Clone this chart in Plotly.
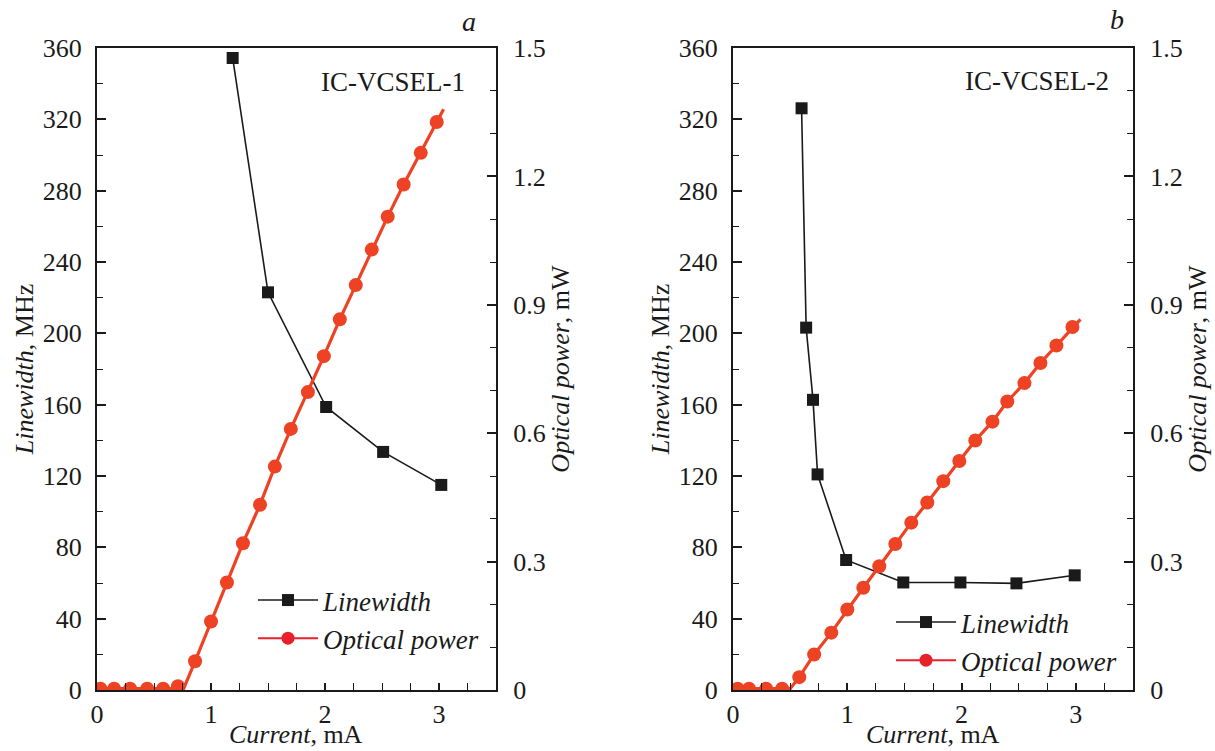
import plotly.graph_objects as go

# ---------------- data ----------------
# Panel a: IC-VCSEL-1
lw1_current = [1.19, 1.50, 2.01, 2.51, 3.02]
lw1_values = [354.4, 223.0, 158.7, 133.5, 115.0]

op1_current = [0.03, 0.15, 0.29, 0.44, 0.58, 0.71, 0.86, 1.00, 1.14, 1.28, 1.43,
               1.56, 1.70, 1.85, 1.99, 2.13, 2.27, 2.41, 2.55, 2.69, 2.84, 2.98]
op1_values = [0.003, 0.003, 0.003, 0.003, 0.003, 0.009, 0.067, 0.160, 0.251, 0.343, 0.433,
              0.522, 0.610, 0.696, 0.780, 0.866, 0.946, 1.029, 1.106, 1.181, 1.255, 1.327]
op1_line_current = [0.00, 0.71, 0.76, 0.86, 1.00, 1.14, 1.28, 1.43, 1.56, 1.70, 1.85,
                    1.99, 2.13, 2.27, 2.41, 2.55, 2.69, 2.84, 2.98, 3.04]
op1_line_values = [0.003, 0.003, 0.003, 0.067, 0.160, 0.251, 0.343, 0.433, 0.522, 0.610,
                   0.696, 0.780, 0.866, 0.946, 1.029, 1.106, 1.181, 1.255, 1.327, 1.357]

# Panel b: IC-VCSEL-2
lw2_current = [0.60, 0.64, 0.70, 0.74, 0.99, 1.49, 1.99, 2.48, 2.99]
lw2_values = [326.2, 203.2, 162.7, 120.9, 72.9, 60.3, 60.3, 59.8, 64.3]

op2_current = [0.04, 0.14, 0.29, 0.43, 0.58, 0.71, 0.86, 1.00, 1.14, 1.28, 1.42,
               1.56, 1.70, 1.84, 1.98, 2.12, 2.27, 2.40, 2.55, 2.69, 2.83, 2.97]
op2_values = [0.003, 0.003, 0.003, 0.003, 0.030, 0.083, 0.134, 0.188, 0.239, 0.289, 0.341,
              0.391, 0.438, 0.488, 0.535, 0.583, 0.627, 0.674, 0.717, 0.764, 0.805, 0.848]
op2_line_current = [0.00, 0.50, 0.58, 0.71, 0.86, 1.00, 1.14, 1.28, 1.42, 1.56, 1.70,
                    1.84, 1.98, 2.12, 2.27, 2.40, 2.55, 2.69, 2.83, 2.97, 3.04]
op2_line_values = [0.003, 0.003, 0.030, 0.083, 0.134, 0.188, 0.239, 0.289, 0.341, 0.391,
                   0.438, 0.488, 0.535, 0.583, 0.627, 0.674, 0.717, 0.764, 0.805, 0.848, 0.866]

x_range = [0, 3.5]
x_ticks = [0, 1, 2, 3]
lw_range = [0, 360]
lw_ticks = [0, 40, 80, 120, 160, 200, 240, 280, 320, 360]
op_range = [0, 1.5]
op_ticks = [0, 0.3, 0.6, 0.9, 1.2, 1.5]
op_ticktext = ["0", "0.3", "0.6", "0.9", "1.2", "1.5"]

# ---------------- style ----------------
FONT = "Liberation Serif, Times New Roman, serif"
BLACK = "#1a1a1a"
RED = "#EE4224"
W, H = 1215, 751


def px_x(p):
    return p / W


def px_y(p):
    return (H - p) / H


fig = go.Figure()


def add_panel(lw_x, lw_y, op_x, op_y, opl_x, opl_y, xa, ya, ya2, legend):
    fig.add_trace(go.Scatter(x=lw_x, y=lw_y, mode="lines+markers", name="<i>Linewidth</i>",
                             line=dict(color=BLACK, width=1.6),
                             marker=dict(symbol="square", size=12, color=BLACK),
                             xaxis=xa, yaxis=ya, legend=legend))
    fig.add_trace(go.Scatter(x=opl_x, y=opl_y, mode="lines", showlegend=False,
                             line=dict(color=RED, width=3.2),
                             xaxis=xa, yaxis=ya2, hoverinfo="skip"))
    fig.add_trace(go.Scatter(x=op_x, y=op_y, mode="markers", name="<i>Optical power</i>",
                             marker=dict(symbol="circle", size=14, color=RED),
                             xaxis=xa, yaxis=ya2, showlegend=False))
    # legend-only entry with line + marker
    fig.add_trace(go.Scatter(x=[None], y=[None], mode="lines+markers", name="<i>Optical power</i>",
                             line=dict(color="#E8202A", width=2),
                             marker=dict(symbol="circle", size=13, color="#E8202A"),
                             xaxis=xa, yaxis=ya2, legend=legend))


add_panel(lw1_current, lw1_values, op1_current, op1_values, op1_line_current, op1_line_values,
          "x", "y", "y2", "legend")
add_panel(lw2_current, lw2_values, op2_current, op2_values, op2_line_current, op2_line_values,
          "x2", "y3", "y4", "legend2")

ydom = [px_y(690), px_y(48)]
tickfont = dict(family=FONT, size=26, color=BLACK)
titlefont = dict(family=FONT, size=26, color=BLACK)

common_x = dict(range=x_range, tickvals=x_ticks, ticks="inside", ticklen=7, tickwidth=1.5,
                tickcolor=BLACK, showline=True, linecolor=BLACK, linewidth=2, mirror=True,
                showgrid=False, zeroline=False, tickfont=tickfont, automargin=False,
                minor=dict(ticks="inside", dtick=0.25, ticklen=7, tickwidth=1.2, tickcolor=BLACK))
common_lw = dict(range=lw_range, tickvals=lw_ticks, ticks="inside", ticklen=9, tickwidth=1.5,
                 tickcolor=BLACK, showline=True, linecolor=BLACK, linewidth=2,
                 showgrid=False, zeroline=False, tickfont=tickfont, ticklabelstandoff=8,
                 automargin=False,
                 minor=dict(ticks="inside", dtick=20, ticklen=6, tickwidth=1.2, tickcolor=BLACK),
                 title=dict(text="<i>Linewidth</i>, MHz", font=titlefont, standoff=2))
common_op = dict(range=op_range, tickvals=op_ticks, ticktext=op_ticktext, ticks="inside",
                 ticklen=9, tickwidth=1.5, tickcolor=BLACK, showline=True, linecolor=BLACK,
                 linewidth=2, side="right", showgrid=False, zeroline=False, tickfont=tickfont,
                 ticklabelstandoff=10, automargin=False,
                 minor=dict(ticks="inside", dtick=0.1, ticklen=6, tickwidth=1.2, tickcolor=BLACK),
                 title=dict(text="<i>Optical power</i>, mW", font=titlefont, standoff=6))

legend_common = dict(font=dict(family=FONT, size=27, color=BLACK), bgcolor="rgba(0,0,0,0)",
                     itemwidth=60, tracegroupgap=0, xanchor="left", yanchor="top")


def text_ann(text, x, y, size, yanchor="middle"):
    return dict(text=text, x=px_x(x), y=px_y(y), xref="paper", yref="paper",
                xanchor="center", yanchor=yanchor, showarrow=False,
                font=dict(family=FONT, size=size, color=BLACK))


fig.update_layout(
    width=W, height=H, autosize=False,
    margin=dict(l=0, r=0, t=0, b=0),
    paper_bgcolor="white", plot_bgcolor="white",
    xaxis=dict(domain=[px_x(97), px_x(496)], anchor="y", **common_x),
    yaxis=dict(domain=ydom, anchor="x", **common_lw),
    yaxis2=dict(overlaying="y", anchor="x", **common_op),
    xaxis2=dict(domain=[px_x(733), px_x(1133)], anchor="y3", **common_x),
    yaxis3=dict(domain=ydom, anchor="x2", **common_lw),
    yaxis4=dict(overlaying="y3", anchor="x2", **common_op),
    legend=dict(x=px_x(253), y=px_y(576), **legend_common),
    legend2=dict(x=px_x(891), y=px_y(598), **legend_common),
    annotations=[
        text_ann("IC-VCSEL-1", 393, 82, 27),
        text_ann("IC-VCSEL-2", 1037, 81, 27),
        text_ann("<i>a</i>", 469, 21, 28),
        text_ann("<i>b</i>", 1117, 20, 28),
        text_ann("<i>Current</i>, mA", 296, 751, 26, "bottom"),
        text_ann("<i>Current</i>, mA", 933, 751, 26, "bottom"),
    ],
)

fig.write_html("out.html", config={"displayModeBar": False},
               post_script="document.body.style.margin='0';")
